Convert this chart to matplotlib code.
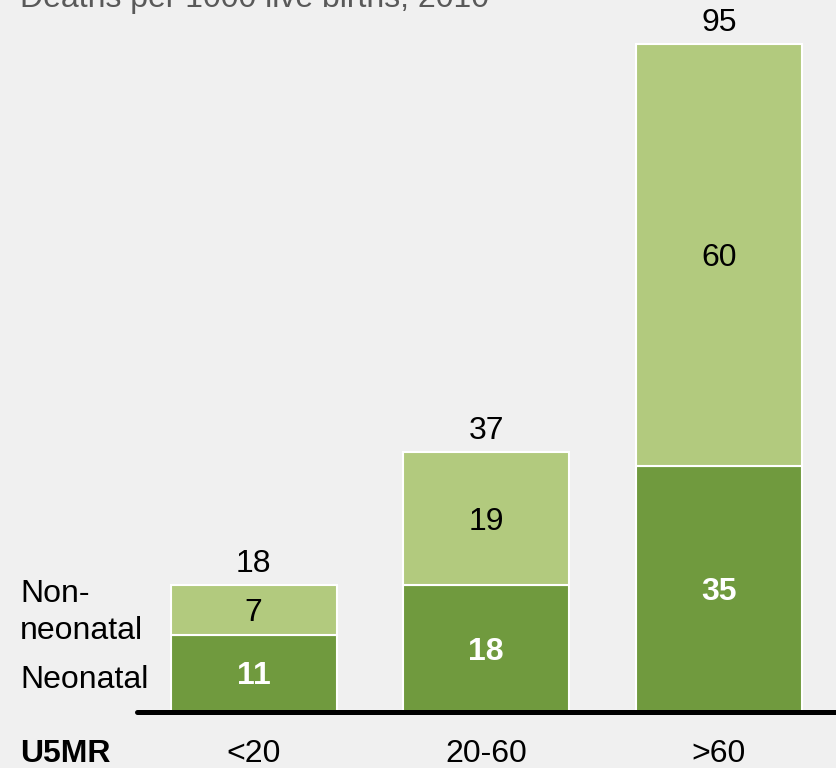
import matplotlib
matplotlib.use("Agg")
import matplotlib.pyplot as plt

categories = ["<20", "20-60", ">60"]
neonatal = [11, 18, 35]
non_neonatal = [7, 19, 60]
totals = [18, 37, 95]
title = "Deaths per 1000 live births, 2010"

BG = "#f0f0f0"
DARK = "#709a3e"
LIGHT = "#b2ca7e"
FONT = "Liberation Sans"
FS = 23

W, H = 836, 768
fig = plt.figure(figsize=(W / 100, H / 100), dpi=100, facecolor=BG)
ax = fig.add_axes([0, 0, 1, 1])
ax.set_facecolor(BG)

px_x = 232.75  # pixels per category
c0 = 253.5
px_y = 668 / 95.0
base_px = 712
ax.set_xlim(-c0 / px_x, (W - c0) / px_x)
ax.set_ylim(-(H - base_px) / px_y, base_px / px_y)
ax.axis("off")

x = list(range(len(categories)))
bw = 166 / px_x
ax.bar(x, neonatal, width=bw, color=DARK, edgecolor="white", linewidth=1.5, zorder=2)
ax.bar(x, non_neonatal, width=bw, bottom=neonatal, color=LIGHT, edgecolor="white",
       linewidth=1.5, zorder=2)

# baseline
ax.plot([(137 - c0) / px_x, (W + 10 - c0) / px_x], [0, 0], color="black", lw=3.6,
        solid_capstyle="round", zorder=3)

for i in x:
    n, nn, t = neonatal[i], non_neonatal[i], totals[i]
    ax.annotate(str(n), (i, n / 2), xytext=(0, -8), textcoords="offset points",
                ha="center", va="baseline", color="white", fontweight="bold",
                fontsize=FS, family=FONT, zorder=4)
    ax.annotate(str(nn), (i, n + nn / 2), xytext=(0, -8), textcoords="offset points",
                ha="center", va="baseline", color="black",
                fontsize=FS, family=FONT, zorder=4)
    ax.annotate(str(t), (i, n + nn), xytext=(0, 9.5), textcoords="offset points",
                ha="center", va="baseline", color="black",
                fontsize=FS, family=FONT, zorder=4)
    ax.annotate(categories[i], (i, 0), xycoords=("data", "figure pixels"),
                xytext=(i, H - 762), textcoords=("data", "figure pixels"),
                ha="center", va="baseline", color="black", fontsize=FS, family=FONT)

def ftext(xp, yp_top, s, **kw):
    fig.text(xp / W, (H - yp_top) / H, s, ha="left", va="baseline",
             fontsize=FS, family=FONT, **kw)

ftext(20, 602, "Non-", color="black")
ftext(20, 639, "neonatal", color="black")
ftext(20, 688, "Neonatal", color="black")
ftext(20, 762, "U5MR", color="black", fontweight="bold")
ftext(20, 7, title, color="#595959")

fig.savefig("out.png", dpi=100, facecolor=BG)
